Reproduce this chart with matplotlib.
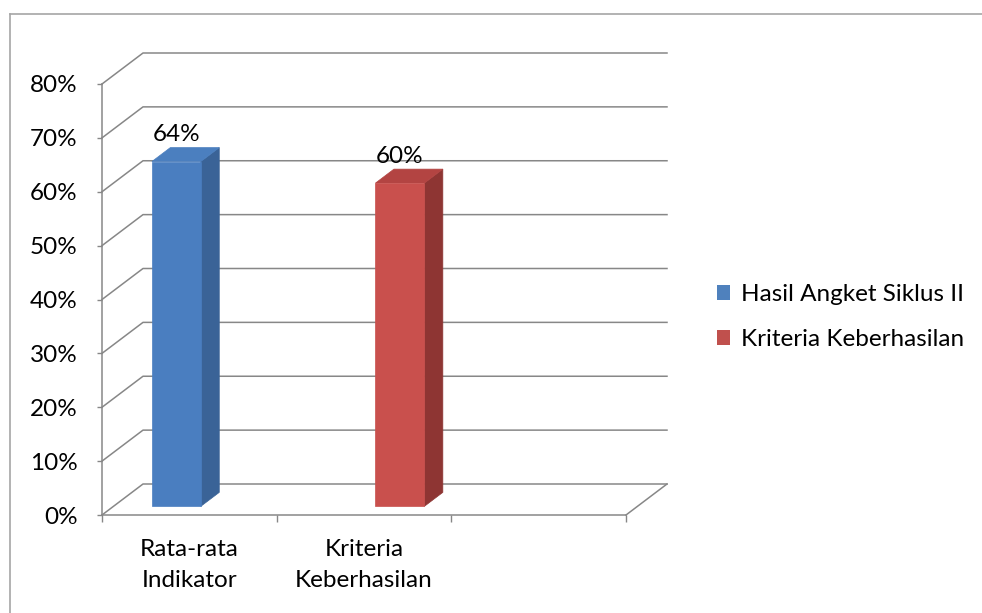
import matplotlib.pyplot as plt
from matplotlib.patches import Polygon, Patch
from matplotlib.lines import Line2D
from matplotlib.ticker import PercentFormatter

plt.rcParams['font.family'] = ['Lato', 'DejaVu Sans']

categories = ['Rata-rata\nIndikator', 'Kriteria\nKeberhasilan', '']
series_names = ['Hasil Angket Siklus II', 'Kriteria Keberhasilan']
series_values = [
    [0.64, None, None],
    [None, 0.60, None],
]
# front, side, top shades for each series
series_shades = [
    ('#4a7ec0', '#3a6397', '#4b7fbf'),
    ('#c9504d', '#8e3533', '#b34442'),
]
legend_colors = ['#4f81bd', '#c0504d']
y_ticks = [0, 0.1, 0.2, 0.3, 0.4, 0.5, 0.6, 0.7, 0.8]

grid_color = '#878787'
fs = 17.5

# depth of the 3d box, in data units (x: categories, y: value)
DX = 41 / 174.67
DY = 31 / 538.75
Z0, Z1 = 0.28, 0.73
BAR_W = 0.28


def proj(x, y, z):
    return (x + z * DX, y + z * DY)


fig = plt.figure(figsize=(9.82, 6.13), dpi=100)
ax = fig.add_axes([102 / 982, 98 / 613, 524 / 982, 431 / 613])
ax.set_xlim(0, len(categories))
ax.set_ylim(0, 0.8)
ax.patch.set_visible(False)

# walls and floor
n = len(categories)
for v in y_ticks:
    ax.plot([0, DX, n + DX], [v, v + DY, v + DY], color=grid_color, lw=1.1,
            clip_on=False, zorder=1)
ax.plot([n, n + DX], [0, DY], color=grid_color, lw=1.1, clip_on=False, zorder=1)

# bars
for i, vals in enumerate(series_values):
    front_c, side_c, top_c = series_shades[i]
    for j, v in enumerate(vals):
        if v is None:
            continue
        center = j + 0.5 + (i - 0.5) * BAR_W
        x0, x1 = center - BAR_W / 2, center + BAR_W / 2
        front = [proj(x0, 0, Z0), proj(x1, 0, Z0), proj(x1, v, Z0), proj(x0, v, Z0)]
        side = [proj(x1, 0, Z0), proj(x1, 0, Z1), proj(x1, v, Z1), proj(x1, v, Z0)]
        top = [proj(x0, v, Z0), proj(x1, v, Z0), proj(x1, v, Z1), proj(x0, v, Z1)]
        for pts, c in ((side, side_c), (top, top_c), (front, front_c)):
            ax.add_patch(Polygon(pts, closed=True, facecolor=c, edgecolor=c,
                                 lw=0.5, clip_on=False, zorder=3))
        ax.annotate(f'{v:.0%}', xy=(proj(center, v, Z0)[0], v + Z1 * DY),
                    xytext=(0, 1.5), textcoords='offset points',
                    ha='center', va='bottom', fontsize=fs, zorder=4)

# axes
for s in ('top', 'right'):
    ax.spines[s].set_visible(False)
for s in ('left', 'bottom'):
    ax.spines[s].set_color(grid_color)
    ax.spines[s].set_linewidth(1.1)

ax.set_yticks(y_ticks)
ax.yaxis.set_major_formatter(PercentFormatter(1.0, decimals=0))
ax.tick_params(axis='y', length=3.6, width=1, color=grid_color, pad=14,
               labelsize=fs)

ax.set_xticks(range(n + 1))
ax.set_xticklabels([''] * (n + 1))
ax.set_xticks([k + 0.5 for k in range(n)], minor=True)
ax.set_xticklabels(categories, minor=True)
ax.tick_params(axis='x', which='major', length=5, width=1, color=grid_color)
ax.tick_params(axis='x', which='minor', length=0, pad=17, labelsize=fs)
for lbl in ax.get_xticklabels(minor=True):
    lbl.set_linespacing(1.6)

handles = [Patch(facecolor=c, label=name) for c, name in zip(legend_colors, series_names)]
fig.legend(handles=handles, loc='center left',
           bbox_to_anchor=(695 / 982, (613 - 317) / 613),
           frameon=False, fontsize=fs, handlelength=0.55, handleheight=0.55,
           handletextpad=0.45, labelspacing=1.0)

# chart area border
fig.add_artist(Line2D([9.5 / 982, 9.5 / 982], [0, (613 - 14) / 613],
                      transform=fig.transFigure, color='#a6a6a6', lw=1.2))
fig.add_artist(Line2D([9.5 / 982, 1], [(613 - 14) / 613, (613 - 14) / 613],
                      transform=fig.transFigure, color='#a6a6a6', lw=1.2))

fig.savefig('out.png', dpi=100)
